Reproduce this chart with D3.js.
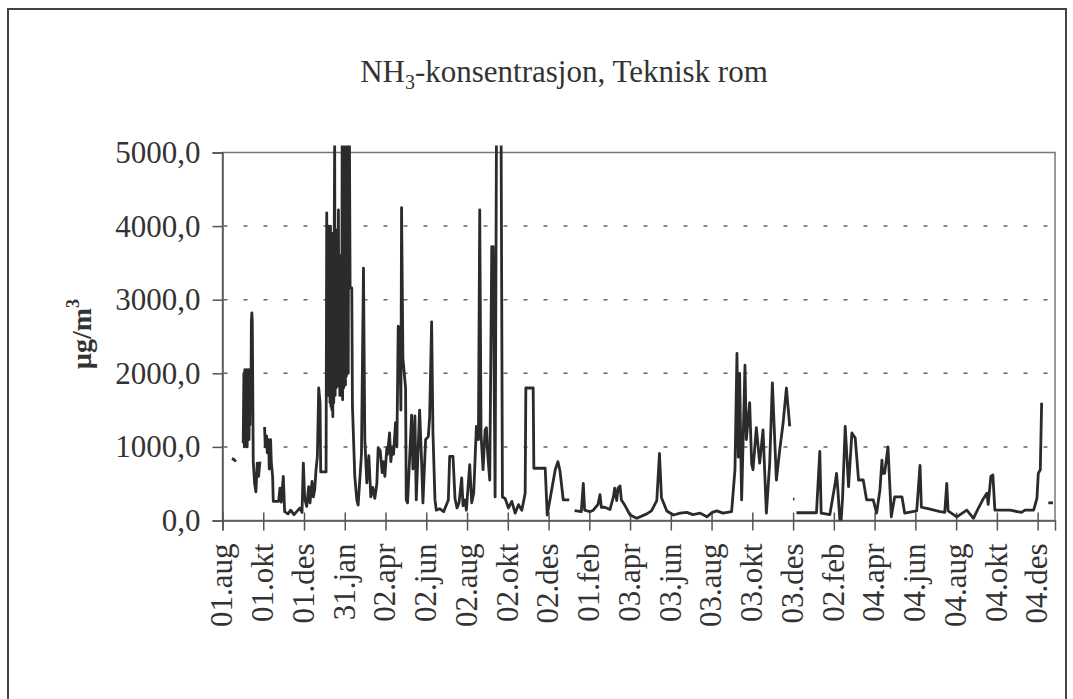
<!DOCTYPE html>
<html>
<head>
<meta charset="utf-8">
<script src="https://cdn.jsdelivr.net/npm/d3@7"></script>
<style>
  body { margin: 0; background: #fff; }
  svg { display: block; }
  text { font-family: "Liberation Serif", "Times New Roman", serif; fill: #333; }
</style>
</head>
<body>
<svg id="chart" width="1073" height="699"></svg>
<script>
// tick labels on the date axis, one every 61 days from the first sample day
const xTickLabels = ["01.aug", "01.okt", "01.des", "31.jan", "02.apr", "02.jun", "02.aug", "02.okt", "02.des",
    "01.feb", "03.apr", "03.jun", "03.aug", "03.okt", "03.des", "02.feb", "04.apr", "04.jun", "04.aug", "04.okt", "04.des"];
const xTickDays = [0, 61, 122, 183, 244, 305, 366, 427, 488, 549, 610, 671, 732, 793, 854, 915, 976, 1037, 1098, 1159, 1220];
const yTickValues = [0, 1000, 2000, 3000, 4000, 5000];
const yTickLabels = ["0,0", "1000,0", "2000,0", "3000,0", "4000,0", "5000,0"];
const lastDay = 1246;

// NH3 measurements, [day, µg/m3], split where the logger had gaps
const run1 = [[14, 840], [17, 830], [20, 800]];
const run2 = [[31, 1050], [32, 2000], [32.7, 1000], [33.4, 2050], [34.1, 1100], [34.8, 2000], [35.5, 1050],
    [36.2, 2050], [36.9, 1000], [37.6, 2000], [38.3, 1200], [39, 2050], [39.7, 1100], [40.4, 1950], [41.1, 1300],
    [41.8, 2050], [42.5, 1500], [43.2, 2700], [43.9, 2820], [44.6, 2700], [45.3, 1800], [46, 800], [48, 510],
    [50, 390], [52, 780], [54, 600], [56, 800]];
const run3 = [[63, 1270], [64, 1000], [66, 1150], [67, 920], [69, 1100], [70, 700], [72, 1100], [73, 800],
    [75, 600], [76, 260], [84, 260], [86, 440], [88, 250], [91, 600], [93, 120], [98, 90], [102, 140], [107, 80],
    [111, 120], [116, 170], [119, 110], [121, 780], [123, 300], [126, 190], [129, 460], [131, 240], [134, 530],
    [136, 320], [138, 420], [140, 690], [142, 870], [144, 1800], [146, 1600], [147, 660], [155, 660],
    [156, 4180], [156.7, 1800], [157.4, 3900], [158.1, 1700], [158.8, 4000], [159.5, 1750], [160.2, 3950],
    [160.9, 1600], [161.6, 4000], [162.3, 1550], [163, 3800], [163.7, 1500], [164.4, 3900], [165.1, 1410],
    [165.8, 3700], [166.5, 1600], [167.2, 3900], [167.9, 5200], [168.6, 1700], [169.3, 3950], [170, 1800],
    [170.7, 3950], [171.4, 1820], [172.1, 3800], [172.8, 1900], [173.5, 4220], [174.2, 2000], [174.9, 3500],
    [175.6, 1700], [176.3, 3600], [177, 1800], [177.7, 3300], [178.4, 1700], [179.1, 5200], [179.8, 1640],
    [180.5, 5200], [181.2, 1800], [181.9, 5200], [182.6, 3160], [183.3, 5200], [184, 1840], [184.7, 5200],
    [185.4, 1960], [186.1, 5200], [186.8, 3160], [187.5, 5200], [188.2, 2000], [188.9, 5200], [190, 5200],
    [191, 3160], [193.5, 3160], [194.5, 1550], [198, 600], [201, 280], [203, 210], [208, 900], [211, 3430],
    [213, 1100], [216, 510], [219, 880], [222, 320], [225, 450], [228, 300], [231, 500], [233, 990], [236, 950],
    [239, 650], [241, 800], [243, 600], [246, 990], [247, 900], [250, 1190], [252, 800], [254, 1000], [256, 900],
    [259, 1330], [261, 1000], [263, 2640], [265, 2600], [267, 1500], [268, 4250], [270, 2210], [274, 1800],
    [275, 280], [277, 240], [283, 1430], [285, 700], [288, 1420], [290, 280], [295, 1500], [298, 800], [300, 240],
    [304, 1100], [308, 1140], [310, 1400], [313, 2700], [315, 1190], [318, 280], [320, 140], [325, 160],
    [331, 120], [338, 280], [340, 870], [345, 870], [348, 300], [351, 170], [354, 240], [358, 580], [360, 200],
    [363, 280], [365, 140], [370, 760], [373, 240], [376, 370], [380, 1280], [383, 1100], [385, 4220],
    [387, 1160], [390, 690], [393, 1230], [395, 1260], [397, 890], [400, 550], [403, 3720], [405, 3720],
    [408, 320], [410, 5200], [417, 5200], [419, 320], [423, 300], [428, 170], [433, 260], [438, 100], [443, 215],
    [448, 140], [453, 370], [454, 1800], [465, 1800], [466, 710], [483, 710], [486, 75], [490, 280], [498, 690],
    [502, 800], [505, 680], [510, 280], [519, 280]];
const run4 = [[527, 135], [537, 120], [540, 505], [542, 140], [550, 120], [555, 140], [562, 220], [565, 350],
    [567, 180], [572, 180], [580, 150], [585, 320], [587, 440], [590, 270], [592, 440], [595, 470], [597, 280],
    [602, 210], [610, 75], [620, 30], [635, 90], [642, 130], [650, 270], [654, 910], [657, 310], [665, 130],
    [675, 75], [685, 100], [695, 110], [704, 80], [715, 100], [725, 50], [733, 110], [740, 130], [749, 100],
    [762, 120], [767, 690], [770, 2270], [772, 860], [774, 2000], [776, 800], [777, 280], [782, 2110],
    [784, 1100], [789, 1600], [792, 770], [794, 690], [799, 1260], [804, 780], [809, 1230], [814, 100],
    [819, 780], [823, 1870], [829, 550], [834, 960], [839, 1320], [844, 1800], [849, 1280]];
const run5 = [[854, 290], [856, 290]];
const run6 = [[859, 105], [889, 105], [894, 940], [896, 100], [909, 80], [917, 505], [919, 640], [921, 420],
    [924, 0], [926, 10], [928, 300], [932, 1280], [937, 460], [942, 1190], [947, 1120], [952, 550], [959, 550],
    [964, 280], [974, 280], [979, 100], [984, 415], [987, 820], [988, 640], [991, 640], [996, 1000], [1001, 50],
    [1006, 320], [1017, 320], [1021, 100], [1039, 130], [1044, 750], [1046, 180], [1056, 160], [1074, 120],
    [1081, 110], [1084, 505], [1086, 130], [1099, 50], [1114, 140], [1124, 30], [1131, 160], [1139, 300],
    [1144, 370], [1146, 220], [1150, 600], [1153, 620], [1156, 140], [1179, 140], [1196, 110], [1201, 140],
    [1214, 140], [1219, 300], [1221, 640], [1224, 690], [1226, 1600]];
const run7 = [[1236, 240], [1243, 240]];
const runs = [run1, run2, run3, run4, run5, run6, run7];

const svg = d3.select("#chart");
const margin = {left: 222.5, right: 1055, top: 152.5, bottom: 520.5};

const x = d3.scaleLinear().domain([0, lastDay]).range([margin.left, margin.right]);
const y = d3.scaleLinear().domain([0, 5000]).range([margin.bottom, margin.top]);

// outer frame
svg.append("rect")
    .attr("x", 8).attr("y", 9)
    .attr("width", 1058).attr("height", 720)
    .attr("fill", "none").attr("stroke", "#444").attr("stroke-width", 2);

// title with subscript
let title = svg.append("text")
    .attr("x", 564).attr("y", 82)
    .attr("text-anchor", "middle")
    .style("font-size", "31px");
title.append("tspan").text("NH");
title.append("tspan").attr("dy", 7).style("font-size", "20px").text("3");
title.append("tspan").attr("dy", -7).text("-konsentrasjon, Teknisk rom");

// plot area border
svg.append("rect")
    .attr("x", margin.left).attr("y", margin.top)
    .attr("width", margin.right - margin.left).attr("height", margin.bottom - margin.top)
    .attr("fill", "none").attr("stroke", "#777").attr("stroke-width", 1.5);

// dashed gridlines
svg.append("g")
    .selectAll("line")
    .data(yTickValues.filter(d => d > 0 && d < 5000))
    .enter()
    .append("line")
    .attr("x1", margin.left + 1).attr("x2", margin.right)
    .attr("y1", d => y(d)).attr("y2", d => y(d))
    .attr("stroke", "#666").attr("stroke-width", 1.5)
    .attr("stroke-dasharray", "4,16");

// y axis
let yAxis = svg.append("g")
    .attr("transform", `translate(${margin.left},0)`)
    .call(d3.axisLeft(y).tickValues(yTickValues)
        .tickFormat((d, i) => yTickLabels[i]).tickSize(10).tickPadding(12));
yAxis.select(".domain").attr("stroke", "#555").attr("stroke-width", 1.5);
yAxis.selectAll(".tick line").attr("stroke", "#555").attr("stroke-width", 1.5);
yAxis.selectAll("text").style("font-size", "31px").attr("fill", "#333")
    .style("font-family", "'Liberation Serif', 'Times New Roman', serif");

// x axis
let xAxis = svg.append("g")
    .attr("transform", `translate(0,${margin.bottom})`)
    .call(d3.axisBottom(x).tickValues(xTickDays)
        .tickFormat((d, i) => xTickLabels[i]).tickSize(10));
xAxis.select(".domain").attr("stroke", "#555").attr("stroke-width", 1.5);
xAxis.selectAll(".tick line").attr("y1", -8).attr("stroke", "#555").attr("stroke-width", 1.5);
xAxis.selectAll("text")
    .style("font-size", "31px").attr("fill", "#333")
    .style("font-family", "'Liberation Serif', 'Times New Roman', serif")
    .attr("text-anchor", "end")
    .attr("transform", "rotate(-90)")
    .attr("x", -23).attr("y", 0).attr("dy", "0.3em");

// y axis title
let yTitle = svg.append("text")
    .attr("transform", "translate(91,334) rotate(-90)")
    .attr("text-anchor", "middle")
    .style("font-size", "28px").style("font-weight", "bold");
yTitle.append("tspan").text("µg/m");
yTitle.append("tspan").attr("dy", -12).style("font-size", "18px").text("3");

// clip slightly above the plot so the over-range spikes poke through the top border
svg.append("clipPath").attr("id", "plotClip")
    .append("rect")
    .attr("x", margin.left).attr("y", margin.top - 7)
    .attr("width", margin.right - margin.left).attr("height", margin.bottom - margin.top + 7);

const line = d3.line().x(d => x(d[0])).y(d => y(d[1]));

svg.append("g")
    .attr("clip-path", "url(#plotClip)")
    .selectAll("path")
    .data(runs)
    .enter()
    .append("path")
    .attr("d", line)
    .attr("fill", "none")
    .attr("stroke", "#2b2b2b")
    .attr("stroke-width", 2.8)
    .attr("stroke-linejoin", "round");
</script>
</body>
</html>
